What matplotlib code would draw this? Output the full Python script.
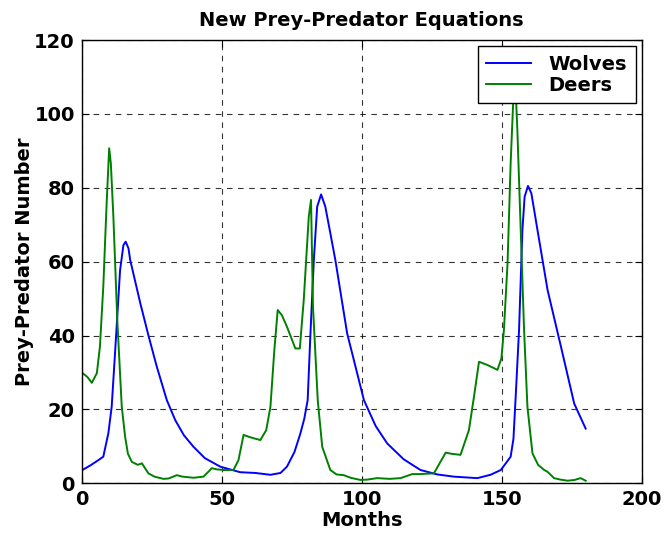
import numpy as np
import matplotlib
matplotlib.use("Agg")
import matplotlib.pyplot as plt

# values
months_wolves = [0, 3, 6, 7.7, 9.5, 10.7, 11.9, 13.7, 14.9, 15.7, 16.7, 17.3, 20.9, 23.8, 26.8,
                 30.4, 33.4, 36.5, 39.9, 44, 49.5, 56.6, 62, 67.4, 71, 73.3, 76, 78.1, 79.5,
                 80.7, 81.7, 82.9, 84.1, 85.5, 87.0, 88.8, 90.6, 94.8, 100.8, 105, 109.1, 115,
                 121, 127, 132.9, 141.3, 146, 149.7, 153.2, 154.2, 155, 156.2, 157.4, 158.2,
                 159.4, 160.6, 161.6, 162.8, 166.4, 171.2, 175.9, 180]
wolves = [3.5, 4.8, 6.3, 7.2, 13.5, 20.7, 35.3, 57.7, 64.5, 65.4, 63.6, 60.5, 48.8, 40.1, 31.6,
          22.5, 17.1, 13, 9.9, 6.8, 4.5, 3.0, 2.8, 2.3, 2.8, 4.5, 8.5, 13.5, 17.5,
          22.5, 40.6, 60.4, 74.9, 78.2, 74.9, 67.7, 60.4, 40.6, 22.5, 15.5, 10.8, 6.5,
          3.6, 2.4, 1.8, 1.4, 2.3, 3.6, 7.2, 12, 23.4, 41.4, 68.5, 77.6,
          80.5, 78.5, 74, 68.5, 52.3, 36.9, 21.6, 14.8]

months_deers = [0, 2, 3.6, 5.4, 6.5, 7.7, 8.9, 9.8, 10.4, 11.3, 12.7, 14.3, 15.5, 16.5, 17.9,
                20, 21.5, 23.8, 26, 29.2, 31, 34.0, 36, 39.9, 43.5, 46.5, 48, 50.7, 54.2, 56,
                57.8, 60, 63.8, 65.9, 67.4, 68.8, 70.0, 71.5, 73.3, 76.3, 77.9, 79.3, 81.1,
                81.9, 82.6, 84.3, 85.9, 88.8, 91, 93.6, 96, 99.6, 102, 105.5, 110, 113.9,
                118.1, 121, 125.8, 130.0, 132, 135.3, 138.3, 140.1, 141.9, 145, 148.5, 149.9,
                150.8, 152.1, 153.2, 154.2, 154.7, 155.6, 156.8, 158.0, 159.2, 161.0, 163,
                165.2, 166.4, 168.7, 171, 173.5, 176, 178.2, 180]
deers = [30.0, 28.8, 27.2, 29.8, 37, 53.2, 75.9, 90.7, 86.6, 72.2, 44.2, 20.7, 12.6, 8, 5.8,
         5.0, 5.4, 2.7, 1.8, 1.2, 1.3, 2.2, 1.8, 1.5, 1.8, 4.1, 3.8, 3.6, 3.6, 6.3,
         13.1, 12.5, 11.7, 14.4, 20.7, 36.1, 46.9, 45.5, 42.4, 36.5, 36.5, 49.6, 72.2,
         76.7, 47.8, 22.5, 9.9, 3.6, 2.4, 2.2, 1.5, 0.9, 1.0, 1.4, 1.2, 1.4,
         2.5, 2.5, 2.7, 8.3, 8.0, 7.7, 14.4, 23.4, 32.9, 32, 30.7, 33.8,
         41.5, 59.6, 86.6, 104.7, 112, 95.6, 68.6, 41.5, 20.7, 8.1, 5,
         3.6, 3.1, 1.4, 1.0, 0.7, 0.9, 1.4, 0.7]

plt.rcParams['font.family'] = ['DejaVu Sans']
plt.rcParams['font.weight'] = 'bold'
plt.rcParams['axes.labelweight'] = 'bold'
plt.rcParams['axes.titleweight'] = 'bold'

fig = plt.figure(figsize=(6.65, 5.37), dpi=100)
ax = fig.add_axes([0.1229, 0.100, 0.842, 0.8255])

ax.plot(months_wolves, wolves, color='#0000ff', lw=1.4, label='Wolves')
ax.plot(months_deers, deers, color='#008000', lw=1.4, label='Deers')

ax.set_xlim(0, 200)
ax.set_ylim(0, 120)
ax.set_xticks(np.arange(0, 201, 50))
ax.set_yticks(np.arange(0, 121, 20))
ax.tick_params(direction='in', top=True, right=True, labelsize=14, length=5, pad=5)
ax.grid(True, color='black', linestyle='--', linewidth=0.8, dashes=(5, 5), alpha=0.8)
for s in ax.spines.values():
    s.set_linewidth(1.0)

ax.set_xlabel('Months', fontsize=14, labelpad=1.5)
ax.set_ylabel('Prey-Predator Number', fontsize=14, labelpad=0)
ax.set_title('New Prey-Predator Equations', fontsize=14, pad=10)

leg = ax.legend(loc='upper right', fontsize=14, fancybox=False, framealpha=1,
                edgecolor='black', borderaxespad=0.3, handlelength=2.3,
                handletextpad=0.9, labelspacing=0.1, borderpad=0.45)
leg.get_frame().set_linewidth(1.0)

fig.savefig('out.png', dpi=100)
